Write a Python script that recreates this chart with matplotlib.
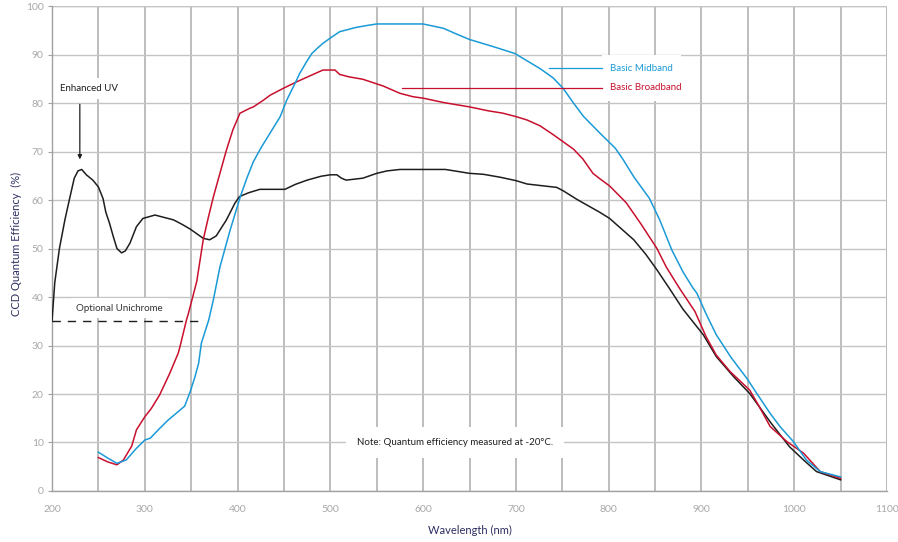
import numpy as np
import matplotlib
matplotlib.use("Agg")
import matplotlib.pyplot as plt

plt.rcParams['font.family'] = ['Lato', 'DejaVu Sans']

# Enhanced UV (black)
uv_nm = [200, 203, 208, 214, 219, 224, 228, 232, 237, 244, 250, 255, 258, 262, 266, 270,
         275, 279, 284, 291, 298, 311, 331, 340, 349, 363, 370, 377, 388, 397, 402, 412,
         424, 451, 462, 475, 490, 500, 507, 512, 517, 535, 550, 561, 575, 600, 624, 650,
         665, 683, 700, 712, 744, 751, 766, 791, 801, 814, 827, 840, 852, 866, 880, 902,
         916, 935, 952, 975, 995, 1010, 1024, 1050]
uv_qe = [35, 43, 50, 56, 60.3, 64.5, 66, 66.3, 65.2, 64.1, 62.7, 60.3, 57.5, 55.2, 52.5, 50,
         49.1, 49.5, 51.1, 54.5, 56.2, 56.9, 55.9, 55, 54, 52.1, 51.8, 52.6, 55.9, 59.3, 60.7, 61.5,
         62.2, 62.2, 63.2, 64.1, 64.9, 65.2, 65.2, 64.5, 64.1, 64.5, 65.5, 66, 66.3, 66.3, 66.3, 65.5,
         65.3, 64.7, 64, 63.3, 62.6, 61.9, 60.1, 57.4, 56.2, 54, 51.8, 48.8, 45.6, 41.6, 37.5, 32.2,
         27.7, 23.5, 20.1, 14, 9.1, 6.4, 4, 2.3]

# Basic Broadband (red)
bb_nm = [250, 260, 270, 277, 286, 291, 300, 307, 316, 327, 336, 338, 345, 347, 356, 363,
         368, 374, 381, 388, 395, 402.6, 413, 417, 428, 435, 449, 464, 478, 492, 505, 510,
         520, 535, 557, 575, 589, 600, 622, 650, 670, 686, 700, 712, 726, 740, 751, 762,
         772, 783, 791, 801, 816, 819, 835, 852, 862, 873, 877, 893, 905, 916, 931, 952,
         962, 974, 992, 1010, 1028, 1050]
bb_qe = [6.9, 6.0, 5.4, 6.4, 9.3, 12.6, 15.3, 17, 19.8, 24.3, 28.4, 29.8, 35.3, 36.6, 43.2, 51.8,
         56, 60.7, 65.5, 70.3, 74.5, 77.9, 78.9, 79.2, 80.6, 81.6, 83, 84.4, 85.6, 86.8, 86.8, 85.9,
         85.4, 84.9, 83.5, 82, 81.3, 81, 80.1, 79.2, 78.4, 77.9, 77.2, 76.5, 75.3, 73.5, 72, 70.5,
         68.5, 65.5, 64.3, 62.9, 60, 59.4, 55, 50, 46.2, 42.8, 41.6, 37, 31.8, 28, 24.6, 20.8,
         17.5, 13.3, 10.2, 7.8, 4, 2.6]

# Basic Midband (blue)
mb_nm = [250, 260, 270, 280, 291, 300, 306, 315, 325, 335, 343, 349, 354, 358, 361, 369,
         374, 381, 392, 403, 410, 417, 426, 437, 446, 453, 460, 467, 474, 480, 486, 492,
         500, 510, 520, 528, 540, 550, 600, 622, 635, 650, 676, 699, 712, 726, 740, 751,
         762, 773, 791, 807, 815, 827, 844, 855, 868, 880, 891, 895, 905, 916, 932, 949,
         960, 974, 985, 999, 1013, 1028, 1050]
mb_qe = [8, 6.8, 5.7, 6.4, 8.8, 10.5, 10.9, 12.7, 14.6, 16.2, 17.5, 20.5, 23.5, 26.3, 30.5, 35.3,
         39.5, 46.2, 53.8, 60.7, 64.5, 67.9, 71, 74.4, 77.2, 80.6, 83.3, 86.1, 88.4, 90.2, 91.3, 92.3,
         93.4, 94.7, 95.2, 95.6, 96, 96.3, 96.3, 95.4, 94.3, 93.1, 91.6, 90.2, 88.7, 87.1, 85.2, 83,
         80, 77.2, 73.7, 70.7, 68.5, 64.8, 60.3, 55.9, 49.7, 45.2, 41.8, 40.8, 36.5, 32.2, 27.5, 23.2,
         20, 16, 13.2, 10.2, 6.4, 4, 2.9]

unichrome_nm = [200, 360]
unichrome_qe = [35, 35]

BLACK = "#1e1e1e"
RED = "#c8102e"
BLUE = "#1a9ad6"
GRID = "#c4c4c4"
TICK = "#a8a8a8"
NAVY = "#2e2e62"

fig = plt.figure(figsize=(8.98, 5.42), dpi=100)
ax = fig.add_axes([0.0579, 0.0941, 0.9299, 0.8948])

ax.set_xlim(200, 1100)
ax.set_ylim(0, 100)
ax.set_xticks(np.arange(200, 1101, 100))
ax.set_xticks(np.arange(250, 1100, 100), minor=True)
ax.set_yticks(np.arange(0, 101, 10))

ax.grid(True, axis='y', color=GRID, lw=1.0)
ax.grid(True, axis='x', which='both', color="#b8b8b8", lw=1.3)
ax.set_axisbelow(True)
ax.axhline(100, color=GRID, lw=1.0, zorder=0.5)
ax.axvline(1100, color="#b8b8b8", lw=1.3, zorder=0.5)

for s in ['top', 'right']:
    ax.spines[s].set_visible(False)
for s in ['left', 'bottom']:
    ax.spines[s].set_color("#a0a0a0")
    ax.spines[s].set_linewidth(1.0)

ax.tick_params(axis='x', which='both', length=0, pad=10, labelsize=7.5, labelcolor=TICK)
ax.tick_params(axis='y', length=3, width=0.8, color="#a0a0a0", pad=3, labelsize=7.5, labelcolor=TICK)

ax.set_xlabel("Wavelength (nm)", fontsize=8, color=NAVY, labelpad=8)
ax.set_ylabel("CCD Quantum Efficiency  (%)", fontsize=8, color=NAVY)
ax.yaxis.set_label_coords(-0.036, 0.51)

ax.plot(uv_nm, uv_qe, color=BLACK, lw=1.1, zorder=3)
ax.plot(bb_nm, bb_qe, color=RED, lw=1.1, zorder=3)
ax.plot(mb_nm, mb_qe, color=BLUE, lw=1.1, zorder=3)
ax.plot(unichrome_nm, unichrome_qe, color=BLACK, lw=1.0, dashes=(6, 5), zorder=3)

box = dict(facecolor='white', edgecolor='none', pad=4)

# annotations
ax.text(209, 83, "Enhanced UV", fontsize=7, color=BLACK, va='center', ha='left', bbox=box, zorder=1)
ax.annotate("", xy=(230, 67.8), xytext=(230, 80.3),
            arrowprops=dict(arrowstyle='-|>', color=BLACK, lw=0.9, mutation_scale=6), zorder=3)
ax.text(226, 37.7, "Optional Unichrome", fontsize=7, color="#333333", va='center', ha='left',
        bbox=box, zorder=1)

ax.text(801.5, 87.2, "Basic Midband", fontsize=7, color=BLUE, va='center', ha='left',
        bbox=dict(facecolor='white', edgecolor='none', pad=6), zorder=1)
ax.text(801.5, 83.1, "Basic Broadband", fontsize=7, color=RED, va='center', ha='left',
        bbox=dict(facecolor='white', edgecolor='none', pad=6), zorder=1)
ax.plot([736, 793], [87.2, 87.2], color=BLUE, lw=0.9, zorder=3)
ax.plot([577, 793], [83.1, 83.1], color=RED, lw=0.9, zorder=3)

ax.text(634, 10, "Note: Quantum efficiency measured at -20°C.", fontsize=7, color=BLACK,
        va='center', ha='center', bbox=dict(facecolor='white', edgecolor='none', pad=8), zorder=1)

fig.savefig("out.png", dpi=100)
